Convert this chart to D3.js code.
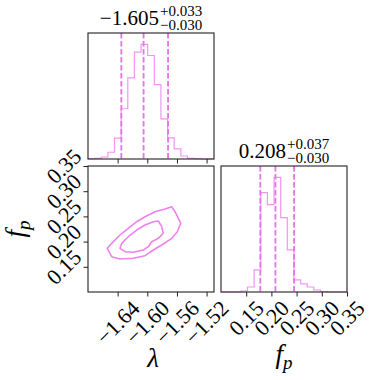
<!DOCTYPE html>
<html>
<head>
<meta charset="utf-8">
<script src="https://cdn.jsdelivr.net/npm/d3@7"></script>
<style>
  body { margin: 0; background: #fff; }
  text { font-family: "Liberation Serif", serif; fill: #000; }
</style>
</head>
<body>
<script>

// parameter ranges and histogram counts (19 bins each)
var lamRange = [-1.68, -1.51];
var fpRange = [0.10, 0.35];
var lamCounts = [0.3, 0.7, 2, 6.7, 20.7, 50, 80.7, 106.3, 114, 103, 74, 40, 21, 10, 3, 0.7, 0.3, 0, 0];
var fpCounts = [0, 0, 0, 1, 5, 22, 99, 87, 114, 74, 42, 12, 8, 5, 2, 0.5, 0, 0, 0];

// 16/50/84 percent quantiles
var lamQuantiles = [-1.635, -1.605, -1.572];
var fpQuantiles = [0.178, 0.208, 0.245];

// ticks
var lamTicks = [-1.64, -1.60, -1.56, -1.52];
var fpTicks = [0.15, 0.20, 0.25, 0.30, 0.35];

// titles: median, plus, minus
var lamTitle = ["\u22121.605", "+0.033", "\u22120.030"];
var fpTitle = ["0.208", "+0.037", "\u22120.030"];

// 2d contours [lambda, f_p]
var outerContour = [
  [-1.6540, 0.1867], [-1.6480, 0.1700], [-1.6368, 0.1655], [-1.6189, 0.1669],
  [-1.6031, 0.1720], [-1.5919, 0.1833], [-1.5805, 0.1933], [-1.5670, 0.2065],
  [-1.5595, 0.2196], [-1.5549, 0.2363], [-1.5581, 0.2462], [-1.5626, 0.2593],
  [-1.5670, 0.2692], [-1.5761, 0.2647], [-1.5896, 0.2593], [-1.6031, 0.2494],
  [-1.6143, 0.2395], [-1.6256, 0.2264], [-1.6368, 0.2131], [-1.6480, 0.1966]
];
var innerContour = [
  [-1.6368, 0.1867], [-1.6301, 0.1800], [-1.6189, 0.1788], [-1.6054, 0.1833],
  [-1.5986, 0.1899], [-1.5940, 0.1998], [-1.5851, 0.2065], [-1.5784, 0.2165],
  [-1.5805, 0.2296], [-1.5851, 0.2409], [-1.5919, 0.2395], [-1.6031, 0.2329],
  [-1.6143, 0.2230], [-1.6256, 0.2097], [-1.6345, 0.1966]
];

// layout
var size = 126, gap = 7, padLeft = 88, padTop = 33;
var tickLen = 4.5, tickPad = 3, tickFont = 22;
var col = "violet";

var svg = d3.select("body").append("svg")
    .attr("width", 374)
    .attr("height", 380);

var xLam = d3.scaleLinear().domain(lamRange).range([0, size]);
var xFp = d3.scaleLinear().domain(fpRange).range([0, size]);
var yFp = d3.scaleLinear().domain(fpRange).range([size, 0]);

var fmt = d3.format(".2f");

function panel(row, c) {
  var g = svg.append("g")
      .attr("transform", "translate(" + (padLeft + c * (size + gap)) + "," + (padTop + row * (size + gap)) + ")");
  return g;
}

// rotate x tick labels by 45 deg, bbox centred under the tick
function rotateX(g) {
  g.selectAll(".tick text").each(function() {
    var w = this.getComputedTextLength(), h = tickFont * 0.68;
    var half = (w + h) * Math.SQRT1_2 / 2;
    d3.select(this)
      .attr("y", 0).attr("dy", "0.32em")
      .attr("text-anchor", "middle")
      .attr("transform", "translate(0," + (tickLen + tickPad + half) + ") rotate(-45)");
  });
}

function rotateY(g) {
  g.selectAll(".tick text").each(function() {
    var w = this.getComputedTextLength(), h = tickFont * 0.68;
    var half = (w + h) * Math.SQRT1_2 / 2;
    d3.select(this)
      .attr("x", 0).attr("dy", "0.32em")
      .attr("text-anchor", "middle")
      .attr("transform", "translate(" + (-(tickLen + 0.5 + half)) + ",0) rotate(-45)");
  });
}

function styleAxis(g) {
  g.select(".domain").remove();
  g.attr("font-family", null).attr("font-size", tickFont);
  g.selectAll(".tick line").attr("stroke", "#222").attr("stroke-width", 1);
}

function frame(g) {
  g.append("rect")
    .attr("width", size).attr("height", size)
    .attr("fill", "none").attr("stroke", "#222").attr("stroke-width", 1.1);
}

function histogram(g, x, counts, quantiles, ticks, labels) {
  var y = d3.scaleLinear().domain([0, 1.1 * d3.max(counts)]).range([size, 0]);
  var dom = x.domain();
  var w = (dom[1] - dom[0]) / counts.length;
  var pts = [[dom[0], 0]];
  counts.forEach(function(c, i) {
    pts.push([dom[0] + i * w, c]);
    pts.push([dom[0] + (i + 1) * w, c]);
  });
  pts.push([dom[1], 0]);

  g.append("path")
    .datum(pts)
    .attr("fill", "none")
    .attr("stroke", col)
    .attr("stroke-opacity", 0.85)
    .attr("stroke-width", 1.2)
    .attr("d", d3.line().x(function(d) { return x(d[0]); }).y(function(d) { return y(d[1]); }));

  g.selectAll(".q")
    .data(quantiles)
    .enter().append("line")
    .attr("x1", function(d) { return x(d); })
    .attr("x2", function(d) { return x(d); })
    .attr("y1", 0).attr("y2", size)
    .attr("stroke", "#ea6fea")
    .attr("stroke-width", 1.8)
    .attr("stroke-dasharray", "5.5,2.5");

  var ax = g.append("g")
    .attr("transform", "translate(0," + size + ")")
    .call(d3.axisBottom(x).tickValues(ticks).tickSize(tickLen).tickSizeOuter(0)
      .tickFormat(labels ? fmt : ""));
  styleAxis(ax);
  if (labels) rotateX(ax);
  frame(g);
}

function title(g, parts) {
  var t = g.append("g");
  var main = t.append("text").attr("y", -8).attr("font-size", 21).text(parts[0]);
  var mw = main.node().getComputedTextLength();
  var sup = t.append("text").attr("x", mw + 1).attr("y", -17).attr("font-size", 15).text(parts[1]);
  var sub = t.append("text").attr("x", mw + 1).attr("y", -3.5).attr("font-size", 15).text(parts[2]);
  var tw = mw + 1 + Math.max(sup.node().getComputedTextLength(), sub.node().getComputedTextLength());
  t.attr("transform", "translate(" + (size / 2 - tw / 2) + ",0)");
}

// top-left: lambda histogram
var p00 = panel(0, 0);
histogram(p00, xLam, lamCounts, lamQuantiles, lamTicks, false);
title(p00, lamTitle);

// bottom-right: f_p histogram
var p11 = panel(1, 1);
histogram(p11, xFp, fpCounts, fpQuantiles, fpTicks, true);
title(p11, fpTitle);

// bottom-left: 2d contours
var p10 = panel(1, 0);
var contourLine = d3.line()
    .x(function(d) { return xLam(d[0]); })
    .y(function(d) { return yFp(d[1]); })
    .curve(d3.curveLinearClosed);

p10.selectAll(".contour")
  .data([outerContour, innerContour])
  .enter().append("path")
  .attr("fill", "none")
  .attr("stroke", col)
  .attr("stroke-width", 1.6)
  .attr("stroke-linejoin", "round")
  .attr("d", contourLine);

var ax10 = p10.append("g")
  .attr("transform", "translate(0," + size + ")")
  .call(d3.axisBottom(xLam).tickValues(lamTicks).tickSize(tickLen).tickSizeOuter(0).tickFormat(fmt));
styleAxis(ax10);
rotateX(ax10);

var ay10 = p10.append("g")
  .call(d3.axisLeft(yFp).tickValues(fpTicks).tickSize(tickLen).tickSizeOuter(0).tickFormat(fmt));
styleAxis(ay10);
rotateY(ay10);
frame(p10);

// axis labels
svg.append("text")
  .attr("x", padLeft + size / 2 + 2).attr("y", 367)
  .attr("text-anchor", "middle").attr("font-size", 27).attr("font-style", "italic")
  .text("\u03bb");

var fx = svg.append("text")
  .attr("x", padLeft + size + gap + size / 2).attr("y", 363)
  .attr("text-anchor", "middle").attr("font-size", 27).attr("font-style", "italic");
fx.append("tspan").text("f");
fx.append("tspan").attr("font-size", 19).attr("dy", 6).text("p");

var fy = svg.append("text")
  .attr("transform", "translate(24," + (padTop + size + gap + size / 2) + ") rotate(-90)")
  .attr("text-anchor", "middle").attr("font-size", 27).attr("font-style", "italic");
fy.append("tspan").text("f");
fy.append("tspan").attr("font-size", 19).attr("dy", 6).text("p");

</script>
</body>
</html>
